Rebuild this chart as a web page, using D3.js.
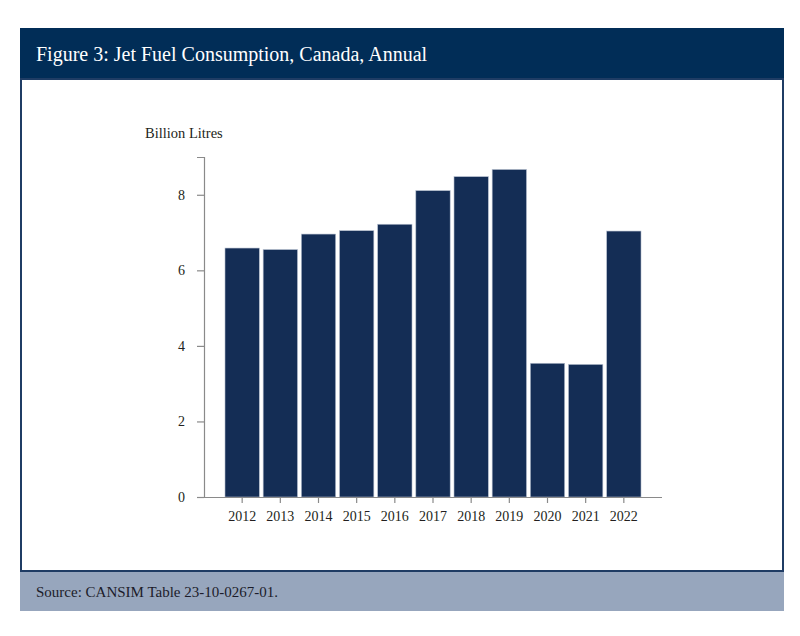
<!DOCTYPE html>
<html>
<head>
<meta charset="utf-8">
<title>Jet Fuel Consumption, Canada, Annual</title>
<script src="https://cdn.jsdelivr.net/npm/d3@7"></script>
<style>
  html, body { margin: 0; padding: 0; background: #fff; }
  svg { display: block; font-family: "Liberation Serif", "Times New Roman", serif; }
</style>
</head>
<body>
<svg id="chart" width="800" height="636"></svg>
<script>
  // data
  var years = ['2012', '2013', '2014', '2015', '2016', '2017', '2018', '2019', '2020', '2021', '2022'];
  var litres = [6.59, 6.55, 6.96, 7.05, 7.22, 8.11, 8.48, 8.67, 3.54, 3.51, 7.04];
  var yTicks = [0, 2, 4, 6, 8];

  var title = 'Figure 3: Jet Fuel Consumption, Canada, Annual';
  var source = 'Source: CANSIM Table 23-10-0267-01.';
  var unit = 'Billion Litres';

  var svg = d3.select('#chart');

  // frame: header, white panel, footer
  svg.append('rect')
    .attr('x', 21).attr('y', 79)
    .attr('width', 762).attr('height', 492)
    .attr('fill', '#fff')
    .attr('stroke', '#1f3c64')
    .attr('stroke-width', 2);

  svg.append('rect')
    .attr('x', 20).attr('y', 28)
    .attr('width', 764).attr('height', 50)
    .attr('fill', '#012d57');

  svg.append('rect')
    .attr('x', 20).attr('y', 572)
    .attr('width', 764).attr('height', 39)
    .attr('fill', '#97a6bd');

  svg.append('text')
    .attr('x', 36).attr('y', 61)
    .attr('fill', '#fff')
    .attr('font-size', 20)
    .text(title);

  svg.append('text')
    .attr('x', 36).attr('y', 597)
    .attr('fill', '#1c1c2a')
    .attr('font-size', 15)
    .text(source);

  // chart
  var x = d3.scaleBand()
    .domain(years)
    .range([204, 662])
    .paddingInner(0.1)
    .paddingOuter(0.55);

  var y = d3.scaleLinear()
    .domain([0, 9])
    .range([497, 157]);

  svg.selectAll('rect.bar')
    .data(litres)
    .enter()
    .append('rect')
    .attr('class', 'bar')
    .attr('x', (d, i) => x(years[i]))
    .attr('y', d => y(d))
    .attr('width', x.bandwidth())
    .attr('height', d => y(0) - y(d))
    .attr('fill', '#142d55')
    .attr('stroke', '#b7c0d0')
    .attr('stroke-width', 0.6);

  var yAxis = svg.append('g')
    .attr('transform', 'translate(204,0)')
    .call(d3.axisLeft(y).tickValues(yTicks).tickSize(7).tickPadding(12).tickFormat(d3.format('d')));

  var xAxis = svg.append('g')
    .attr('transform', 'translate(0,497)')
    .call(d3.axisBottom(x).tickSize(6).tickPadding(8).tickSizeOuter(0));

  xAxis.select('.domain').attr('d', 'M204,0.5H662');

  [yAxis, xAxis].forEach(g => {
    g.select('.domain').attr('stroke', '#8a8a8a').attr('stroke-width', 1.2);
    g.selectAll('.tick line').attr('stroke', '#8a8a8a').attr('stroke-width', 1.2);
    g.selectAll('.tick text')
      .attr('fill', '#231f20')
      .attr('font-size', 14)
      .attr('font-family', '"Liberation Serif", "Times New Roman", serif');
  });

  svg.append('text')
    .attr('x', 145).attr('y', 138)
    .attr('fill', '#231f20')
    .attr('font-size', 14.5)
    .text(unit);
</script>
</body>
</html>
